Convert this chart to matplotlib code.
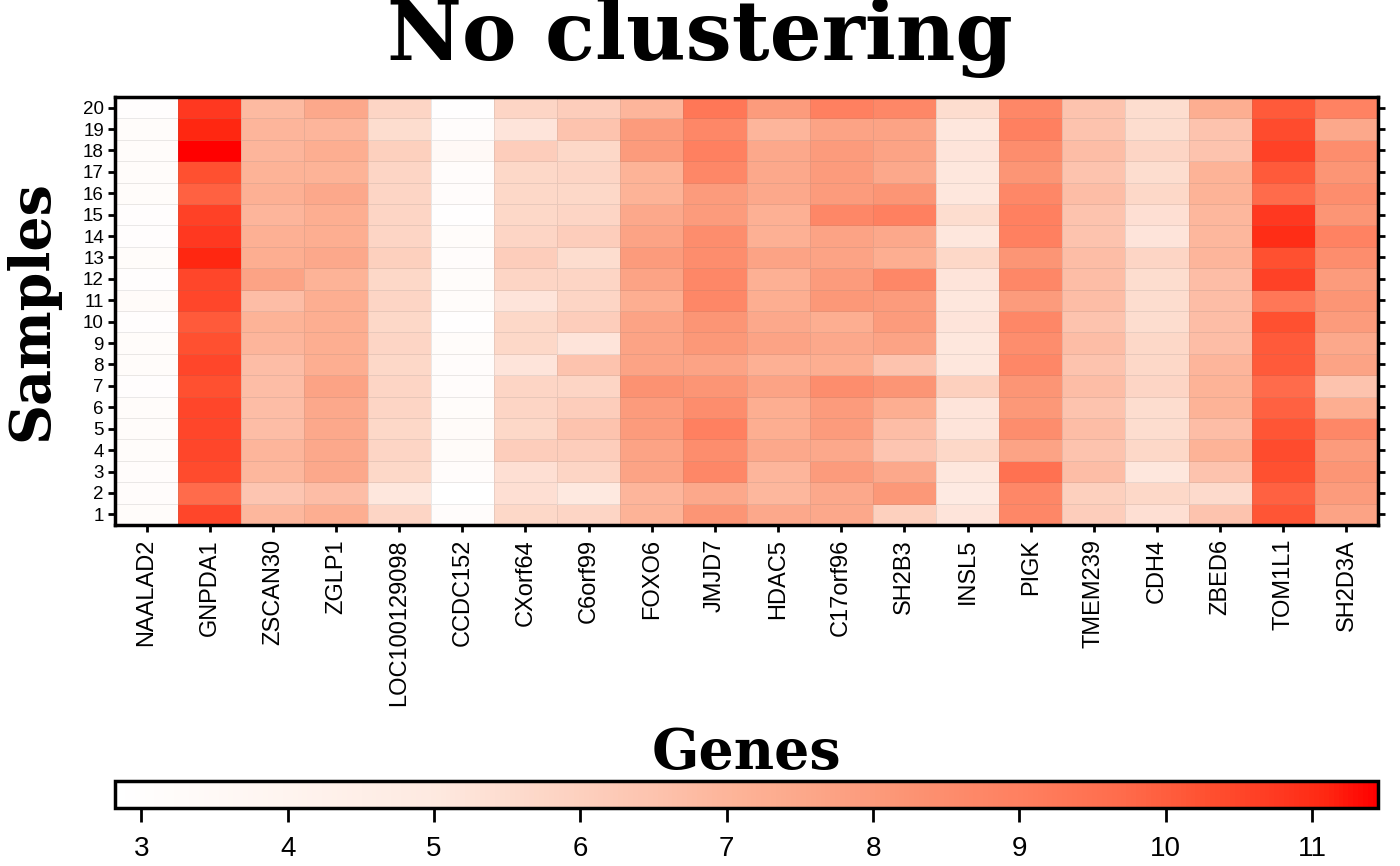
import numpy as np
import matplotlib
matplotlib.use("Agg")
import matplotlib.pyplot as plt
from matplotlib.colors import LinearSegmentedColormap, Normalize

# genes (columns, left -> right)
genes = ['NAALAD2', 'GNPDA1', 'ZSCAN30', 'ZGLP1', 'LOC100129098', 'CCDC152',
         'CXorf64', 'C6orf99', 'FOXO6', 'JMJD7', 'HDAC5', 'C17orf96', 'SH2B3',
         'INSL5', 'PIGK', 'TMEM239', 'CDH4', 'ZBED6', 'TOM1L1', 'SH2D3A']

# samples (rows, bottom -> top)
samples = [str(i) for i in range(1, 21)]

# expression per gene, listed from sample 20 (top) down to sample 1 (bottom)
expr = [
    [3.0, 3.2, 3.2, 3.2, 3.2, 3.0, 3.0, 3.2, 3.0, 3.3, 3.0, 3.2, 3.2, 3.0, 3.2, 3.2, 3.2, 3.1, 3.1, 3.2],   # NAALAD2
    [10.8, 11.1, 11.5, 10.3, 9.9, 10.6, 10.8, 11.1, 10.5, 10.5, 10.1, 10.3, 10.5, 10.3, 10.5, 10.5, 10.5, 10.4, 9.7, 10.5],  # GNPDA1
    [6.8, 7.0, 7.0, 7.1, 7.2, 7.0, 7.2, 7.3, 7.7, 6.7, 7.1, 7.0, 6.7, 6.7, 6.7, 6.7, 7.0, 6.9, 6.4, 6.9],   # ZSCAN30
    [7.5, 7.0, 7.3, 7.1, 7.5, 7.3, 7.3, 7.5, 7.1, 7.3, 7.3, 7.3, 7.3, 7.7, 7.5, 7.5, 7.5, 7.5, 6.7, 7.3],   # ZGLP1
    [5.8, 5.5, 6.0, 5.8, 5.8, 5.8, 5.8, 6.0, 5.7, 5.8, 5.7, 5.8, 5.7, 5.8, 5.8, 5.7, 5.8, 5.7, 5.1, 5.8],   # LOC100129098
    [2.9, 3.1, 3.5, 3.1, 3.1, 2.9, 3.2, 3.1, 3.2, 3.2, 2.9, 3.2, 3.1, 3.1, 3.2, 3.3, 3.3, 3.1, 2.85, 3.1],  # CCDC152
    [5.8, 5.2, 6.1, 5.7, 5.7, 5.7, 5.8, 6.1, 5.8, 5.2, 5.7, 5.7, 5.2, 5.8, 5.8, 5.7, 6.1, 5.4, 5.4, 5.7],   # CXorf64
    [6.1, 6.5, 5.7, 5.8, 5.7, 5.8, 6.1, 5.5, 5.8, 5.8, 6.1, 5.2, 6.5, 5.8, 6.1, 6.5, 6.1, 5.8, 5.0, 5.8],   # C6orf99
    [7.0, 8.0, 8.0, 7.1, 7.1, 7.5, 7.7, 8.0, 7.7, 7.3, 7.7, 7.7, 7.7, 8.3, 8.0, 8.0, 7.7, 7.7, 7.0, 7.1],   # FOXO6
    [9.3, 8.7, 9.0, 8.7, 8.0, 8.0, 8.5, 8.5, 8.7, 8.7, 8.2, 8.1, 7.7, 8.2, 8.5, 9.0, 8.5, 8.7, 7.5, 8.2],   # JMJD7
    [8.0, 7.0, 7.5, 7.5, 7.5, 7.2, 7.2, 7.7, 7.2, 7.3, 7.5, 7.7, 7.2, 7.7, 7.3, 7.3, 7.5, 7.0, 6.9, 7.5],   # HDAC5
    [9.0, 7.7, 8.0, 8.0, 8.0, 8.7, 7.7, 7.7, 8.0, 8.1, 7.3, 7.5, 7.3, 8.5, 8.0, 8.0, 7.5, 8.0, 7.5, 7.5],   # C17orf96
    [8.7, 7.7, 7.7, 7.5, 8.2, 9.0, 7.5, 7.3, 8.7, 8.0, 8.0, 7.7, 6.5, 8.2, 7.3, 6.7, 6.4, 7.5, 8.1, 6.0],   # SH2B3
    [5.5, 5.1, 5.2, 5.1, 5.1, 5.5, 5.1, 5.7, 5.2, 5.1, 5.2, 5.1, 5.1, 6.0, 5.2, 5.2, 5.7, 5.1, 4.9, 5.2],   # INSL5
    [8.7, 9.0, 8.5, 8.2, 8.7, 9.0, 9.0, 8.2, 8.7, 8.0, 8.7, 8.5, 8.7, 8.2, 8.1, 8.5, 7.7, 9.5, 8.7, 8.7],   # PIGK
    [6.5, 6.5, 6.7, 6.5, 6.7, 6.5, 6.5, 6.7, 6.7, 6.7, 6.5, 6.7, 6.5, 6.7, 6.5, 6.7, 6.5, 6.7, 6.0, 6.1],   # TMEM239
    [5.5, 5.5, 5.8, 5.5, 5.7, 5.4, 5.2, 5.8, 5.5, 5.5, 5.5, 5.7, 5.7, 5.8, 5.5, 5.5, 5.7, 5.1, 5.7, 5.4],   # CDH4
    [7.3, 6.5, 6.5, 7.1, 7.1, 6.9, 6.9, 7.0, 6.7, 6.7, 6.7, 6.7, 7.0, 7.1, 7.1, 6.7, 7.1, 6.5, 5.6, 6.5],   # ZBED6
    [10.1, 10.4, 10.6, 10.1, 9.7, 10.8, 11.0, 10.3, 10.6, 9.3, 10.3, 10.1, 10.1, 9.7, 9.9, 10.2, 10.4, 10.3, 9.9, 10.2],  # TOM1L1
    [8.9, 7.5, 8.5, 8.2, 8.5, 8.2, 8.9, 8.5, 8.0, 8.2, 8.0, 7.5, 7.7, 6.5, 7.3, 8.7, 8.0, 8.2, 8.0, 7.7],   # SH2D3A
]

cbar_ticks = [3, 4, 5, 6, 7, 8, 9, 10, 11]
vmin, vmax = 2.82, 11.45

# white -> red ramp
stops = [(2.82, '#FFFFFF'), (4.0, '#FFF4EF'), (5.0, '#FEE9E0'), (5.8, '#FDD5C5'),
         (6.5, '#FDC3AE'), (7.0, '#FDB59A'), (7.7, '#FCA385'), (8.3, '#FC9272'),
         (9.0, '#FF8060'), (9.7, '#FF6C4C'), (10.3, '#FF5030'), (10.8, '#FF3820'),
         (11.1, '#FF2812'), (11.45, '#FF0000')]
cmap = LinearSegmentedColormap.from_list(
    'wr', [((v - vmin) / (vmax - vmin), c) for v, c in stops])
norm = Normalize(vmin=vmin, vmax=vmax)

mat = np.array(expr).T[::-1]   # rows: sample 1 .. 20

fig = plt.figure(figsize=(14, 8.66), dpi=100)
tick_font = ['Liberation Sans', 'DejaVu Sans']
title_font = ['DejaVu Serif']

ax = fig.add_axes([115 / 1400, 1 - 525 / 866, 1263 / 1400, 428 / 866])
mesh = ax.pcolormesh(np.arange(21), np.arange(21), mat, cmap=cmap, norm=norm,
                     edgecolor=(0.45, 0.45, 0.45, 0.15), linewidth=0.6)
ax.set_xlim(0, 20)
ax.set_ylim(0, 20)
ax.set_xticks(np.arange(20) + 0.5)
ax.set_xticklabels(genes, rotation=90, fontsize=17, family=tick_font)
ax.set_yticks(np.arange(20) + 0.5)
ax.set_yticklabels(samples, fontsize=13.5, family=tick_font)
ax.tick_params(axis='x', direction='out', length=5, width=2, pad=5)
ax.tick_params(axis='y', direction='out', length=5, width=2, pad=3,
               right=True)
for sp in ax.spines.values():
    sp.set_linewidth(2.5)

fig.text(0.5, 1 - 38 / 866, 'No clustering', ha='center', va='center',
         fontsize=59, fontweight='bold', family=title_font)
fig.text(32 / 1400, 1 - 311 / 866, 'Samples', ha='center', va='center',
         rotation=90, fontsize=40, fontweight='bold', family=title_font)
fig.text(746 / 1400, 1 - 754 / 866, 'Genes', ha='center', va='center',
         fontsize=40, fontweight='bold', family=title_font)

# colour key
cax = fig.add_axes([115 / 1400, 1 - 808 / 866, 1263 / 1400, 27 / 866])
cb = fig.colorbar(mesh, cax=cax, orientation='horizontal', ticks=cbar_ticks)
cb.outline.set_linewidth(2.5)
cax.tick_params(direction='out', length=10, width=2, labelsize=20, pad=10)
for lab in cax.get_xticklabels():
    lab.set_family(tick_font)

fig.savefig('out.png', dpi=100)
